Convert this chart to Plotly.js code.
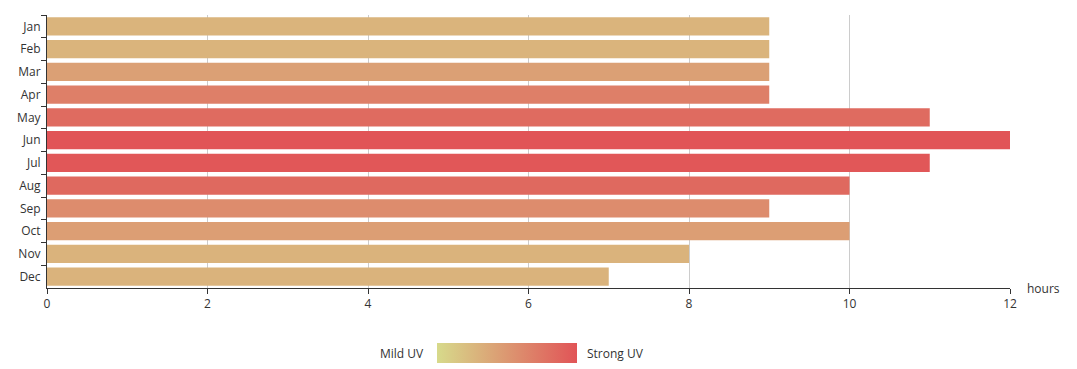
<!DOCTYPE html>
<html>
<head>
<meta charset="utf-8">
<script src="https://cdn.plot.ly/plotly-3.0.1.min.js"></script>
<style>html,body{margin:0;padding:0;background:#fff;}#chart{width:1077px;height:369px;}</style>
</head>
<body>
<div id="chart"></div>
<script>
var months = ['Jan','Feb','Mar','Apr','May','Jun','Jul','Aug','Sep','Oct','Nov','Dec'];
var hours = [9, 9, 9, 9, 11, 12, 11, 10, 9, 10, 8, 7];
var uvLevel = [2.8, 2.8, 4.3, 6.8, 8.3, 10, 9.8, 8.4, 5.8, 4.5, 2.9, 2.9];
var xTicks = [0, 2, 4, 6, 8, 10, 12];
var colorLow = '#D7DA8B';
var colorHigh = '#E15457';

var trace = {
  type: 'bar',
  orientation: 'h',
  y: months,
  x: hours,
  hoverinfo: 'x+y',
  marker: {
    color: uvLevel,
    cmin: 0,
    cmax: 10,
    colorscale: [[0, colorLow], [1, colorHigh]],
    line: {width: 0},
    showscale: true,
    colorbar: {
      orientation: 'h',
      thickness: 20,
      thicknessmode: 'pixels',
      len: 140,
      lenmode: 'pixels',
      xpad: 0,
      ypad: 0,
      x: 567 / 1077,
      xanchor: 'center',
      xref: 'container',
      y: 1 - 353 / 369,
      yanchor: 'middle',
      yref: 'container',
      outlinewidth: 0,
      showticklabels: false,
      ticks: ''
    }
  }
};

var font = {family: '"Open Sans", "DejaVu Sans", sans-serif', size: 12, color: '#333'};

var layout = {
  width: 1077,
  height: 369,
  margin: {l: 47, r: 67, t: 15, b: 81},
  paper_bgcolor: '#fff',
  plot_bgcolor: '#fff',
  font: font,
  bargap: 0.2,
  showlegend: false,
  xaxis: {
    range: [0, 12],
    tickvals: xTicks,
    ticktext: xTicks.map(String),
    showgrid: true,
    gridcolor: '#ccc',
    gridwidth: 1,
    zeroline: false,
    showline: true,
    linecolor: '#333',
    linewidth: 1,
    ticks: 'outside',
    ticklen: 5,
    tickcolor: '#333',
    tickfont: {size: 12, color: '#333'},
    fixedrange: true
  },
  yaxis: {
    autorange: 'reversed',
    type: 'category',
    showgrid: false,
    zeroline: false,
    showline: true,
    linecolor: '#333',
    linewidth: 1,
    ticks: 'outside',
    tickson: 'boundaries',
    ticklen: 5,
    tickcolor: '#333',
    tickfont: {size: 12, color: '#333'},
    ticklabelstandoff: 3,
    fixedrange: true
  },
  annotations: [
    {text: 'hours', xref: 'paper', yref: 'paper', x: 1.016, y: 0.0, xanchor: 'left', yanchor: 'middle', showarrow: false, font: {size: 12, color: '#333'}},
    {text: 'Mild UV', xref: 'paper', yref: 'paper', x: (426 - 47) / 963, y: -65 / 273, xanchor: 'right', yanchor: 'middle', showarrow: false, font: {size: 12, color: '#333'}},
    {text: 'Strong UV', xref: 'paper', yref: 'paper', x: (585 - 47) / 963, y: -65 / 273, xanchor: 'left', yanchor: 'middle', showarrow: false, font: {size: 12, color: '#333'}}
  ]
};

Plotly.newPlot('chart', [trace], layout, {displayModeBar: false, staticPlot: false});
</script>
</body>
</html>
